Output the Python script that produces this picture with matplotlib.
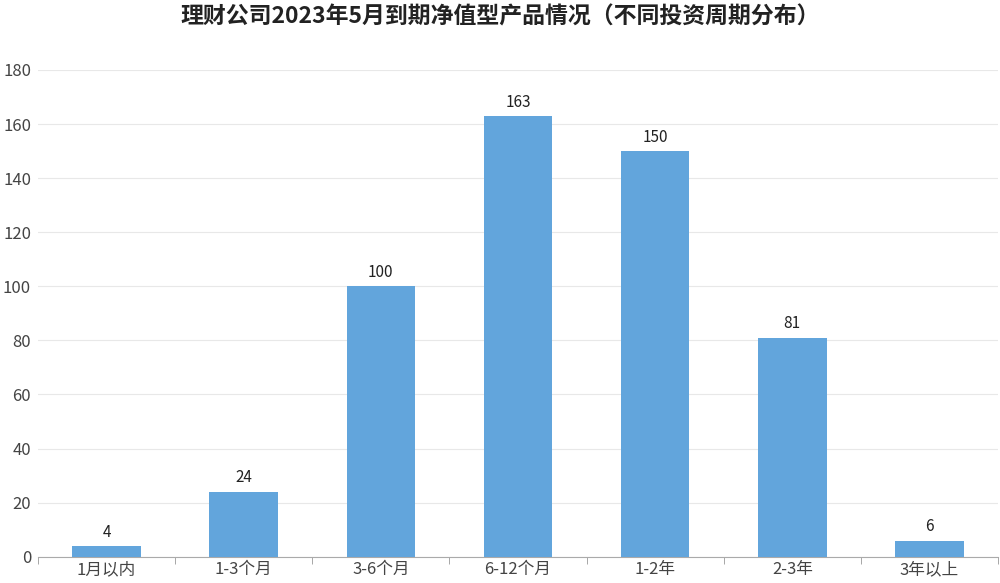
import matplotlib.pyplot as plt
import numpy as np

plt.rcParams['font.family'] = ['Noto Sans CJK SC', 'DejaVu Sans']

categories = ['1月以内', '1-3个月', '3-6个月', '6-12个月', '1-2年', '2-3年', '3年以上']
counts = [4, 24, 100, 163, 150, 81, 6]

fig = plt.figure(figsize=(10, 5.83), dpi=100)
ax = fig.add_axes([0.038, 0.045, 0.960, 0.835])

x = np.arange(len(categories))
bars = ax.bar(x, counts, width=0.5, color='#62a5dc', zorder=3)
for xi, v in zip(x, counts):
    ax.text(xi, v + 2, str(v), ha='center', va='bottom', fontsize=11, color='#222222')

ax.set_xlim(-0.5, len(categories) - 0.5)
ax.set_ylim(0, 180)
ax.set_yticks(range(0, 181, 20))
ax.grid(axis='y', color='#e8e8e8', linewidth=0.8, zorder=0)

ax.set_xticks(x)
ax.set_xticklabels(categories, fontsize=12, color='#444444')
ax.set_xticks(np.arange(-0.5, len(categories), 1), minor=True)
ax.tick_params(axis='x', which='major', length=0, pad=3)
ax.tick_params(axis='x', which='minor', length=5, color='#999999')
ax.tick_params(axis='y', length=0, labelsize=12, labelcolor='#444444', pad=5)

for s in ['top', 'right', 'left']:
    ax.spines[s].set_visible(False)
ax.spines['bottom'].set_color('#aaaaaa')

fig.suptitle('理财公司2023年5月到期净值型产品情况（不同投资周期分布）',
             fontsize=16.5, fontweight='bold', color='#222222', y=0.99)

fig.savefig('out.png', dpi=100)
